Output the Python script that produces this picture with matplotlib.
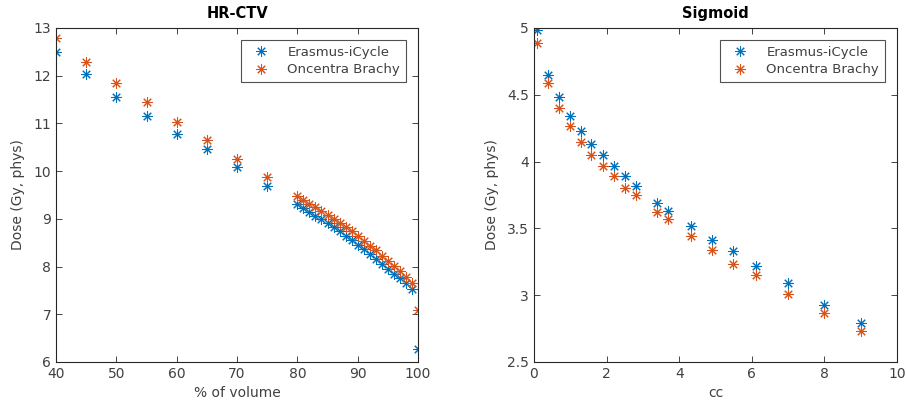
import matplotlib
matplotlib.use("Agg")
import matplotlib.pyplot as plt

# HR-CTV dose-volume points (% of volume -> dose)
ctv_volume = [40, 45, 50, 55, 60, 65, 70, 75,
              80, 81, 82, 83, 84, 85, 86, 87, 88, 89,
              90, 91, 92, 93, 94, 95, 96, 97, 98, 99, 100]
ctv_icycle = [12.49, 12.03, 11.56, 11.16, 10.78, 10.46, 10.08, 9.69,
              9.31, 9.23, 9.15, 9.07, 8.99, 8.91, 8.83, 8.74, 8.65, 8.56,
              8.46, 8.36, 8.26, 8.16, 8.05, 7.95, 7.85, 7.75, 7.65, 7.54, 6.28]
ctv_oncentra = [12.78, 12.29, 11.84, 11.45, 11.04, 10.65, 10.25, 9.88,
                9.47, 9.40, 9.32, 9.24, 9.16, 9.08, 9.00, 8.92, 8.83, 8.74,
                8.64, 8.54, 8.44, 8.34, 8.23, 8.12, 8.01, 7.90, 7.78, 7.66, 7.08]

# Sigmoid dose-volume points (cc -> dose)
sig_cc = [0.07, 0.39, 0.70, 0.99, 1.29, 1.57, 1.89, 2.20, 2.51, 2.80,
          3.38, 3.70, 4.32, 4.89, 5.49, 6.12, 7.01, 8.00, 9.00]
sig_icycle = [4.985, 4.65, 4.48, 4.34, 4.23, 4.13, 4.05, 3.97, 3.89, 3.82,
              3.69, 3.63, 3.52, 3.41, 3.33, 3.22, 3.09, 2.93, 2.79]
sig_oncentra = [4.89, 4.59, 4.40, 4.27, 4.15, 4.05, 3.97, 3.89, 3.80, 3.75,
                3.62, 3.57, 3.44, 3.34, 3.23, 3.15, 3.01, 2.87, 2.73]

labels = ["Erasmus-iCycle", "Oncentra Brachy"]
colors = ["#0072BD", "#D95319"]
axcol = "#262626"
txtcol = "#404040"

plt.rcParams["font.family"] = "DejaVu Sans"
plt.rcParams["font.size"] = 10

fig = plt.figure(figsize=(9.06, 4.05), dpi=100)
ax1 = fig.add_axes([0.0618, 0.1062, 0.3996, 0.8247])
ax2 = fig.add_axes([0.5894, 0.1062, 0.4007, 0.8247])

star = (8, 2, 0)
mk = dict(linestyle="none", marker=star, ms=7.5, mew=0.75)


def style(ax):
    for s in ax.spines.values():
        s.set_color(axcol)
        s.set_linewidth(0.8)
    ax.tick_params(direction="in", which="both", top=True, right=True,
                   color=axcol, labelcolor=txtcol, labelsize=10,
                   length=4, width=0.6)
    leg = ax.legend(loc="upper right", frameon=True, fancybox=False,
                    fontsize=9.5, borderpad=0.45, handletextpad=0.9,
                    labelspacing=0.35, borderaxespad=0.9, handlelength=2.2)
    leg.get_frame().set_edgecolor(axcol)
    leg.get_frame().set_linewidth(0.8)
    for t in leg.get_texts():
        t.set_color(txtcol)


ax1.plot(ctv_volume, ctv_icycle, color=colors[0], label=labels[0], **mk)
ax1.plot(ctv_volume, ctv_oncentra, color=colors[1], label=labels[1], **mk)
ax1.set_xlim(40, 100)
ax1.set_ylim(6, 13)
ax1.set_xticks(range(40, 101, 10))
ax1.set_yticks(range(6, 14))
ax1.set_title("HR-CTV", fontweight="bold", fontsize=10.5, color="k", pad=7)
ax1.set_xlabel("% of volume", color=txtcol, labelpad=4)
ax1.set_ylabel("Dose (Gy, phys)", color=txtcol, labelpad=6)
style(ax1)

ax2.plot(sig_cc, sig_icycle, color=colors[0], label=labels[0], **mk)
ax2.plot(sig_cc, sig_oncentra, color=colors[1], label=labels[1], **mk)
ax2.set_xlim(0, 10)
ax2.set_ylim(2.5, 5)
ax2.set_xticks(range(0, 11, 2))
ax2.set_yticks([2.5, 3, 3.5, 4, 4.5, 5])
ax2.set_yticklabels(["2.5", "3", "3.5", "4", "4.5", "5"])
ax2.set_title("Sigmoid", fontweight="bold", fontsize=10.5, color="k", pad=7)
ax2.set_xlabel("cc", color=txtcol, labelpad=4)
ax2.set_ylabel("Dose (Gy, phys)", color=txtcol, labelpad=6)
style(ax2)

fig.savefig("out.png", dpi=100)
